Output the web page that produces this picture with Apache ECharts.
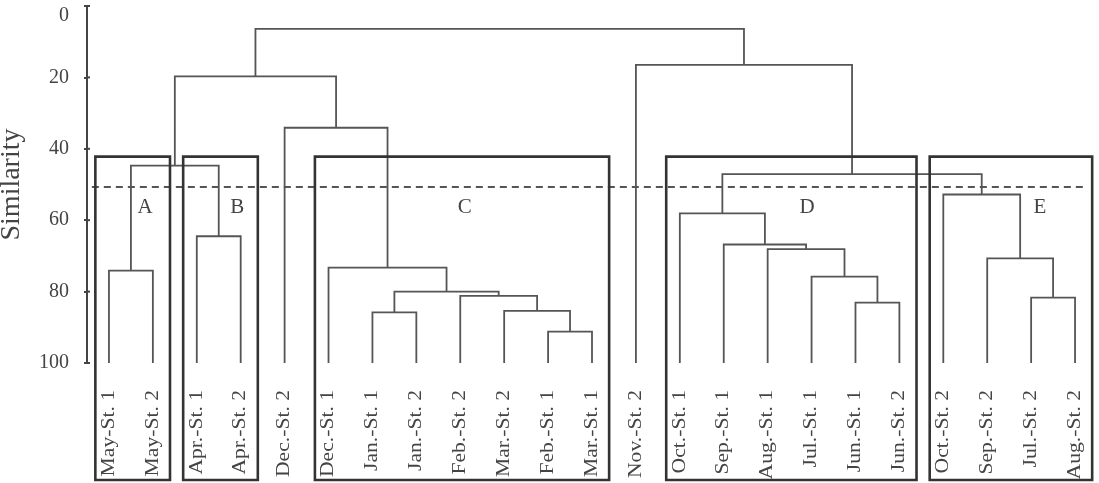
<!DOCTYPE html>
<html>
<head>
<meta charset="utf-8">
<title>Similarity dendrogram</title>
<script src="https://cdn.jsdelivr.net/npm/echarts@6/dist/echarts.min.js"></script>
<style>
    html, body { margin: 0; padding: 0; background: #fff; }
    #chart { width: 1099px; height: 483px; }
</style>
</head>
<body>
<div id="chart"></div>
<script>
    // leaves, left to right
    var leaves = ['May-St. 1', 'May-St. 2', 'Apr.-St. 1', 'Apr.-St. 2', 'Dec.-St. 2', 'Dec.-St. 1',
        'Jan.-St. 1', 'Jan.-St. 2', 'Feb.-St. 2', 'Mar.-St. 2', 'Feb.-St. 1', 'Mar.-St. 1',
        'Nov.-St. 2', 'Oct.-St. 1', 'Sep.-St. 1', 'Aug.-St. 1', 'Jul.-St. 1', 'Jun.-St. 1',
        'Jun.-St. 2', 'Oct.-St. 2', 'Sep.-St. 2', 'Jul.-St. 2', 'Aug.-St. 2'];

    // merges: [left id, right id, similarity]; ids >= leaves.length are earlier merges
    var merges = [
        [0, 1, 74.1],    // 23
        [2, 3, 64.5],    // 24
        [23, 24, 44.7],  // 25
        [10, 11, 91.2],  // 26
        [9, 26, 85.4],   // 27
        [8, 27, 81.2],   // 28
        [6, 7, 85.8],    // 29
        [29, 28, 80.0],  // 30
        [5, 30, 73.3],   // 31
        [4, 31, 34.1],   // 32
        [25, 32, 19.7],  // 33
        [17, 18, 83.1],  // 34
        [16, 34, 75.8],  // 35
        [15, 35, 68.1],  // 36
        [14, 36, 66.8],  // 37
        [13, 37, 58.1],  // 38
        [21, 22, 81.7],  // 39
        [20, 39, 70.7],  // 40
        [19, 40, 52.8],  // 41
        [38, 41, 47.1],  // 42
        [12, 42, 16.5],  // 43
        [33, 43, 6.4]    // 44
    ];

    // groups: [first leaf, last leaf]
    var groupNames = ['A', 'B', 'C', 'D', 'E'];
    var groupRanges = [[0, 1], [2, 3], [5, 11], [13, 18], [19, 22]];
    var groupTop = 42.2;
    var cutLevel = 50.7;

    var yTicks = [0, 20, 40, 60, 80, 100];

    // build the U links from the merge table
    var nodeX = leaves.map(function (l, i) { return i; });
    var nodeH = leaves.map(function () { return 100; });
    var links = [];
    merges.forEach(function (m) {
        var a = m[0], b = m[1], h = m[2];
        links.push([nodeX[a], nodeH[a], nodeX[b], nodeH[b], h]);
        nodeX.push((nodeX[a] + nodeX[b]) / 2);
        nodeH.push(h);
    });

    var boxData = groupRanges.map(function (r, i) { return [r[0], r[1], groupTop, i]; });
    var labelAt = [0.82, 2.92, 8.1, 15.9, 21.2];   // where the letter sits in each box
    var leafData = leaves.map(function (name, i) { return [i, 100, name]; });
    var tickData = yTicks.map(function (v) { return [-0.5, v]; });

    var textColor = '#444';
    var font = '"Liberation Serif", "DejaVu Serif", serif';

    var myChart = echarts.init(document.getElementById('chart'));
    myChart.setOption({
        animation: false,
        grid: { left: 87, right: 2, top: 6, bottom: 120, outerBoundsMode: 'none', containLabel: false },
        xAxis: {
            type: 'value', min: -0.5, max: 22.5, show: false
        },
        yAxis: {
            type: 'value', inverse: true, min: 0, max: 100, interval: 20,
            axisLine: { show: true, onZero: false, lineStyle: { color: '#444', width: 2 } },
            axisTick: { show: true, length: 3, lineStyle: { color: '#444', width: 2 } },
            axisLabel: {
                margin: 18, color: textColor, fontSize: 20, fontFamily: font,
                verticalAlignMinLabel: 'top'
            },
            splitLine: { show: false },
            name: 'Similarity', nameLocation: 'middle', nameGap: 61,
            nameTextStyle: { color: textColor, fontSize: 28, fontFamily: font }
        },
        series: [
            {
                // inner half of the crossing ticks
                type: 'custom',
                clip: false,
                data: tickData,
                renderItem: function (params, api) {
                    var p = api.coord([api.value(0), api.value(1)]);
                    return {
                        type: 'line',
                        shape: { x1: p[0], y1: p[1], x2: p[0] + 3, y2: p[1] },
                        style: { stroke: '#444', lineWidth: 2 }
                    };
                }
            },
            {
                // dendrogram links
                type: 'custom',
                clip: false,
                data: links,
                renderItem: function (params, api) {
                    var x1 = api.value(0), y1 = api.value(1), x2 = api.value(2), y2 = api.value(3), h = api.value(4);
                    return {
                        type: 'polyline',
                        shape: { points: [api.coord([x1, y1]), api.coord([x1, h]), api.coord([x2, h]), api.coord([x2, y2])] },
                        style: { stroke: '#555', lineWidth: 1.8, fill: null }
                    };
                }
            },
            {
                // cut line
                type: 'custom',
                clip: false,
                data: [[-0.39, 22.23, cutLevel]],
                renderItem: function (params, api) {
                    var p1 = api.coord([api.value(0), api.value(2)]);
                    var p2 = api.coord([api.value(1), api.value(2)]);
                    return {
                        type: 'line',
                        shape: { x1: p1[0], y1: p1[1], x2: p2[0], y2: p2[1] },
                        style: { stroke: '#555', lineWidth: 2, lineDash: [7, 5] }
                    };
                }
            },
            {
                // group boxes
                type: 'custom',
                clip: false,
                data: boxData,
                renderItem: function (params, api) {
                    var i = api.value(3);
                    var tl = api.coord([api.value(0) - 0.31, api.value(2)]);
                    var br = api.coord([api.value(1) + 0.39, 100]);
                    var bottom = api.getHeight() - 3;
                    var lab = api.coord([labelAt[i], 56.3]);
                    return {
                        type: 'group',
                        children: [{
                            type: 'rect',
                            shape: { x: tl[0], y: tl[1], width: br[0] - tl[0], height: bottom - tl[1] },
                            style: { stroke: '#333', lineWidth: 2.6, fill: null }
                        }, {
                            type: 'text',
                            x: lab[0], y: lab[1],
                            style: {
                                text: groupNames[i], fill: textColor, fontSize: 21, fontFamily: font,
                                align: 'center', verticalAlign: 'middle'
                            }
                        }]
                    };
                }
            },
            {
                // leaf labels, reading bottom to top
                type: 'custom',
                clip: false,
                data: leafData,
                renderItem: function (params, api) {
                    var p = api.coord([api.value(0), api.value(1)]);
                    return {
                        type: 'text',
                        x: p[0], y: p[1] + 27,
                        rotation: Math.PI / 2,
                        scaleX: 1.2,
                        style: {
                            text: leaves[params.dataIndex], fill: textColor, fontSize: 18, fontFamily: font,
                            align: 'right', verticalAlign: 'middle'
                        }
                    };
                }
            }
        ]
    });
</script>
</body>
</html>
